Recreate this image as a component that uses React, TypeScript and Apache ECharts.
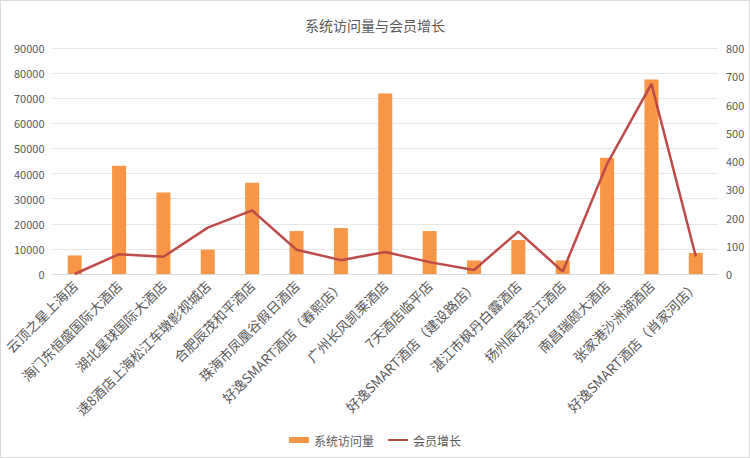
import React, { useEffect, useRef } from "react";
import * as echarts from "echarts";

const categories = [
  "云顶之星上海店",
  "海门东恒盛国际大酒店",
  "湖北星球国际大酒店",
  "速8酒店上海松江车墩影视城店",
  "合肥辰茂和平酒店",
  "珠海市凤凰谷假日酒店",
  "好逸SMART酒店（春熙店）",
  "广州长风凯莱酒店",
  "7天酒店临平店",
  "好逸SMART酒店（建设路店）",
  "湛江市枫丹白露酒店",
  "扬州辰茂京江酒店",
  "南昌瑞颐大酒店",
  "张家港沙洲湖酒店",
  "好逸SMART酒店（肖家河店）",
];

const visits = [7400, 43100, 32500, 9700, 36300, 17100, 18300, 71900, 17100, 5400, 13500, 5400, 46300, 77500, 8400];
const members = [0, 70, 61, 164, 225, 86, 49, 78, 42, 14, 150, 9, 390, 673, 62];

const font = '"Noto Sans CJK SC", "Microsoft YaHei", sans-serif';
const textColor = "#595959";

export default function App() {
  const ref = useRef<HTMLDivElement>(null);
  useEffect(() => {
    if (!ref.current) return;
    const chart = echarts.init(ref.current, null, { renderer: "svg" });
    chart.setOption({
      animation: false,
      textStyle: { fontFamily: font },
      title: {
        text: "系统访问量与会员增长",
        left: "center",
        top: 12,
        textStyle: { fontSize: 14, fontWeight: "normal", color: textColor, fontFamily: font },
      },
      grid: { left: 51, right: 31, top: 47, bottom: 183, containLabel: false },
      legend: {
        bottom: 6,
        left: "center",
        itemGap: 14,
        textStyle: { fontSize: 12, color: textColor, fontFamily: font },
        data: [
          { name: "系统访问量", icon: "rect", itemStyle: { color: "#f79646" } },
          { name: "会员增长", icon: "path://M0,0 L20,0 L20,2 L0,2 Z", itemStyle: { color: "#be4b48" } },
        ],
        itemWidth: 20,
        itemHeight: 6,
      },
      xAxis: {
        type: "category",
        data: categories,
        axisLine: { lineStyle: { color: "#d9d9d9" } },
        axisTick: { show: false },
        axisLabel: {
          rotate: 45,
          interval: 0,
          color: textColor,
          fontSize: 13.5,
          fontFamily: font,
          margin: 9,
        },
      },
      yAxis: [
        {
          type: "value",
          min: 0,
          max: 90000,
          interval: 10000,
          axisLine: { show: false },
          axisTick: { show: false },
          splitLine: { lineStyle: { color: "#e6e6e6" } },
          axisLabel: { color: textColor, fontSize: 11, fontFamily: font, margin: 8, formatter: (v: number) => String(v) },
        },
        {
          type: "value",
          min: 0,
          max: 800,
          interval: 100,
          axisLine: { show: false },
          axisTick: { show: false },
          splitLine: { show: false },
          axisLabel: { color: textColor, fontSize: 11, fontFamily: font, margin: 8, formatter: (v: number) => String(v) },
        },
      ],
      series: [
        {
          name: "系统访问量",
          type: "bar",
          data: visits,
          barWidth: 14,
          itemStyle: { color: "#f79646" },
        },
        {
          name: "会员增长",
          type: "line",
          yAxisIndex: 1,
          data: members,
          symbol: "none",
          lineStyle: { color: "#be4b48", width: 2.5 },
          itemStyle: { color: "#be4b48" },
        },
      ],
    });
    return () => chart.dispose();
  }, []);
  return (
    <div
      style={{
        position: "fixed",
        left: 0,
        top: 0,
        width: 750,
        height: 458,
        boxSizing: "border-box",
        border: "1px solid #d9d9d9",
        background: "#fff",
      }}
    >
      <div ref={ref} style={{ width: 748, height: 456 }} />
    </div>
  );
}
